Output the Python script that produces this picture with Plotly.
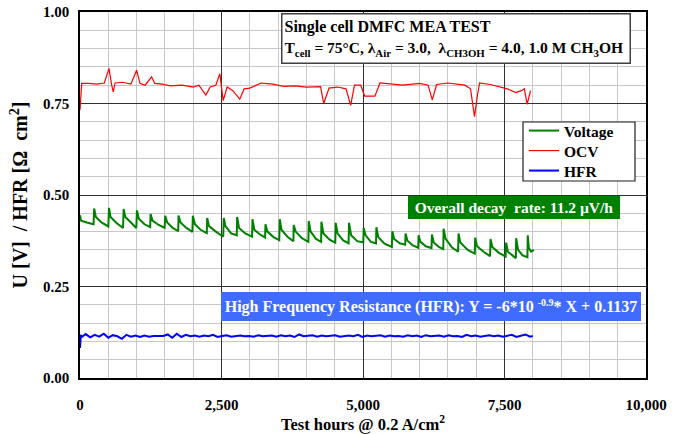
import plotly.graph_objects as go

# ---------------- data ----------------
voltage_hours = [0, 20, 120, 240,
                 250, 280, 380, 500,
                 512, 540, 650, 760,
                 771, 800, 900, 995,
                 1006, 1040, 1140, 1240,
                 1247, 1280, 1390, 1495,
                 1505, 1540, 1640, 1735,
                 1741, 1775, 1880, 1985,
                 1994, 2030, 2130, 2240,
                 2247, 2280, 2400, 2530,
                 2541, 2570, 2670, 2770,
                 2776, 2810, 2920, 3040,
                 3047, 3080, 3180, 3270,
                 3277, 3310, 3420, 3520,
                 3529, 3560, 3670, 3770,
                 3776, 3810, 3920, 4035,
                 4041, 4075, 4170, 4260,
                 4265, 4300, 4410, 4510,
                 4518, 4550, 4650, 4745,
                 4753, 4790, 4900, 5005,
                 5012, 5045, 5140, 5230,
                 5236, 5270, 5380, 5510,
                 5518, 5550, 5650, 5745,
                 5753, 5785, 5880, 5975,
                 5982, 6015, 6110, 6210,
                 6218, 6250, 6340, 6418,
                 6424, 6460, 6570, 6680,
                 6688, 6720, 6850, 6975,
                 6982, 7015, 7130, 7245,
                 7253, 7285, 7400, 7520,
                 7529, 7560, 7640, 7700,
                 7706, 7740, 7820, 7905,
                 7911, 7930, 7970, 8020]
voltage_values = [0.445, 0.430, 0.425, 0.420,
                  0.463, 0.440, 0.425, 0.414,
                  0.465, 0.440, 0.423, 0.410,
                  0.462, 0.440, 0.425, 0.410,
                  0.458, 0.435, 0.420, 0.412,
                  0.448, 0.430, 0.418, 0.410,
                  0.443, 0.425, 0.410, 0.401,
                  0.444, 0.425, 0.410, 0.399,
                  0.443, 0.420, 0.405, 0.396,
                  0.437, 0.415, 0.400, 0.386,
                  0.437, 0.415, 0.395, 0.390,
                  0.440, 0.410, 0.395, 0.386,
                  0.434, 0.405, 0.392, 0.384,
                  0.420, 0.400, 0.385, 0.377,
                  0.434, 0.405, 0.385, 0.374,
                  0.418, 0.400, 0.382, 0.372,
                  0.429, 0.400, 0.380, 0.372,
                  0.427, 0.395, 0.378, 0.370,
                  0.424, 0.395, 0.376, 0.368,
                  0.424, 0.390, 0.374, 0.370,
                  0.410, 0.390, 0.372, 0.368,
                  0.412, 0.385, 0.367, 0.358,
                  0.401, 0.380, 0.368, 0.364,
                  0.395, 0.375, 0.362, 0.356,
                  0.390, 0.372, 0.360, 0.355,
                  0.392, 0.370, 0.358, 0.352,
                  0.408, 0.380, 0.357, 0.345,
                  0.395, 0.370, 0.350, 0.340,
                  0.383, 0.360, 0.345, 0.333,
                  0.380, 0.358, 0.342, 0.332,
                  0.370, 0.345, 0.335, 0.327,
                  0.382, 0.350, 0.335, 0.330,
                  0.390, 0.355, 0.345, 0.350]

ocv_hours = [0, 30, 150, 300, 430, 512, 560, 588, 620, 750, 900, 1000, 1060,
             1150, 1265, 1320, 1450, 1600, 1800, 2000, 2100, 2224, 2300, 2400,
             2470, 2530, 2600, 2700, 2823, 2900, 3000, 3100, 3200, 3400, 3600,
             3800, 4000, 4250, 4306, 4400, 4550, 4700, 4782, 4850, 4960, 5030,
             5210, 5300, 5500, 5700, 6000, 6150, 6224, 6300, 6500, 6800, 6900,
             6970, 7020, 7060, 7250, 7450, 7550, 7700, 7800, 7850, 7900, 7960]
ocv_values = [0.732, 0.805, 0.805, 0.803, 0.806, 0.846, 0.800, 0.782, 0.806,
              0.808, 0.803, 0.841, 0.805, 0.800, 0.823, 0.805, 0.803, 0.798,
              0.800, 0.795, 0.800, 0.773, 0.795, 0.800, 0.831, 0.758, 0.795,
              0.785, 0.762, 0.790, 0.792, 0.800, 0.806, 0.803, 0.797, 0.798,
              0.795, 0.796, 0.750, 0.792, 0.795, 0.790, 0.745, 0.800, 0.800,
              0.770, 0.770, 0.806, 0.803, 0.800, 0.805, 0.800, 0.760, 0.802,
              0.806, 0.800, 0.790, 0.714, 0.770, 0.806, 0.802, 0.795, 0.790,
              0.780, 0.785, 0.790, 0.748, 0.785]

hfr_hours = [0, 15, 30, 100, 180, 260, 340, 420, 500, 580, 660, 740, 820, 900,
             980, 1060, 1140, 1220, 1300, 1360, 1470, 1550, 1630, 1710, 1790,
             1870, 1950, 2030, 2110, 2190, 2270, 2350, 2430, 2510, 2590, 2670,
             2750, 2830, 2910, 2990, 3070, 3150, 3230, 3310, 3390, 3470, 3550,
             3630, 3710, 3790, 3870, 3950, 4030, 4110, 4190, 4270, 4350, 4430,
             4510, 4590, 4670, 4750, 4830, 4910, 4990, 5070, 5150, 5230, 5310,
             5390, 5470, 5550, 5630, 5710, 5790, 5870, 5950, 6030, 6110, 6190,
             6270, 6350, 6430, 6510, 6590, 6670, 6750, 6830, 6910, 6990, 7070,
             7150, 7230, 7310, 7390, 7470, 7550, 7630, 7710, 7790, 7870, 7950,
             8000]
hfr_values = [0.082, 0.118, 0.112, 0.120, 0.111, 0.118, 0.113, 0.121, 0.110,
              0.117, 0.114, 0.107, 0.118, 0.113, 0.116, 0.112, 0.116, 0.113,
              0.115, 0.115, 0.115, 0.119, 0.110, 0.121, 0.112, 0.118, 0.114,
              0.116, 0.113, 0.116, 0.114, 0.118, 0.112, 0.115, 0.117, 0.113,
              0.115, 0.116, 0.114, 0.115, 0.113, 0.117, 0.114, 0.115, 0.116,
              0.113, 0.117, 0.114, 0.116, 0.112, 0.119, 0.114, 0.115, 0.117,
              0.113, 0.116, 0.114, 0.115, 0.117, 0.113, 0.115, 0.116, 0.114,
              0.118, 0.112, 0.116, 0.114, 0.115, 0.117, 0.113, 0.116, 0.114,
              0.115, 0.113, 0.117, 0.114, 0.116, 0.112, 0.117, 0.114, 0.115,
              0.116, 0.113, 0.117, 0.114, 0.115, 0.112, 0.118, 0.114, 0.116,
              0.113, 0.115, 0.117, 0.114, 0.116, 0.113, 0.115, 0.118, 0.112,
              0.116, 0.119, 0.113, 0.115]

x_ticks = [0, 2500, 5000, 7500, 10000]
x_tick_labels = ["0", "2,500", "5,000", "7,500", "10,000"]
y_ticks = [0.0, 0.25, 0.5, 0.75, 1.0]
y_tick_labels = ["0.00", "0.25", "0.50", "0.75", "1.00"]

FONT = "Liberation Serif"
NB = "\u00a0"

fig = go.Figure()
fig.add_trace(go.Scatter(x=voltage_hours, y=voltage_values, mode="lines",
                         name="Voltage", legend="legend",
                         line=dict(color="#008000", width=2)))
fig.add_trace(go.Scatter(x=ocv_hours, y=ocv_values, mode="lines",
                         name="OCV", legend="legend2",
                         line=dict(color="#ff0000", width=1.2)))
fig.add_trace(go.Scatter(x=hfr_hours, y=hfr_values, mode="lines",
                         name="HFR", legend="legend3",
                         line=dict(color="#0000ff", width=2)))

PL, PR, PT, PB = 80, 29, 12, 56
PW = 675 - PL - PR
PH = 434 - PT - PB


def px(xp):
    return (xp - PL) / PW


def py(yp):
    return (434 - PB - yp) / PH


def leg(ycenter):
    return dict(x=px(524), y=py(ycenter), xanchor="left", yanchor="middle",
                bgcolor="rgba(0,0,0,0)", borderwidth=0,
                font=dict(family=FONT, size=15.5, weight="bold"),
                tracegroupgap=0, itemwidth=30)


fig.update_layout(
    width=675, height=434,
    margin=dict(l=PL, r=PR, t=PT, b=PB, autoexpand=False),
    paper_bgcolor="white", plot_bgcolor="white",
    font=dict(family=FONT, color="black"),
    showlegend=True,
    legend=leg(131), legend2=leg(151), legend3=leg(171),
)

# legend frame (white box behind the legend entries)
fig.add_shape(type="rect", xref="paper", yref="paper",
              x0=px(523), x1=px(635), y0=py(181), y1=py(122),
              fillcolor="white", line=dict(color="#202020", width=1.2),
              layer="above")

fig.update_xaxes(
    range=[0, 10000], tickvals=x_ticks, ticktext=x_tick_labels,
    showgrid=True, gridcolor="#303030", gridwidth=1,
    minor=dict(dtick=500, showgrid=True, gridcolor="#c8c8c8", gridwidth=1),
    showline=True, linecolor="black", linewidth=1.5, mirror=True,
    ticks="", ticklabelstandoff=12, zeroline=False, automargin=False,
    tickfont=dict(family=FONT, size=15, weight="bold"),
    title=dict(text="<b>Test hours @ 0.2 A/cm<sup>2</sup></b>",
               font=dict(family=FONT, size=16.5), standoff=10),
)
fig.update_yaxes(
    range=[0, 1.0], tickvals=y_ticks, ticktext=y_tick_labels,
    showgrid=True, gridcolor="#303030", gridwidth=1,
    minor=dict(dtick=0.05, showgrid=True, gridcolor="#c8c8c8", gridwidth=1),
    showline=True, linecolor="black", linewidth=1.5, mirror=True,
    ticks="", ticklabelstandoff=6, zeroline=False, automargin=False,
    tickfont=dict(family=FONT, size=15, weight="bold"),
    title=dict(text=f"<b>U [V]{NB}{NB}/ HFR [Ω{NB}{NB}cm<sup>2</sup>]</b>",
               font=dict(family=FONT, size=20), standoff=10),
)

fig.add_annotation(
    xref="paper", yref="paper", x=px(281), y=py(13),
    xanchor="left", yanchor="top", align="left", showarrow=False,
    text=("<b>Single cell DMFC MEA TEST<br>"
          "<span style='font-size:15.5px'>T<sub>cell</sub> = 75°C, "
          f"λ<sub>Air</sub> = 3.0,{NB} λ<sub>CH3OH</sub> = 4.0, 1.0 M CH<sub>3</sub>OH</span></b>"),
    font=dict(family=FONT, size=16, color="black"),
    bgcolor="white", bordercolor="#404040", borderwidth=1.5, borderpad=2,
    width=343, height=44,
)
fig.add_annotation(
    xref="paper", yref="paper", x=px(408), y=py(196),
    xanchor="left", yanchor="top", showarrow=False,
    text=f"<b>Overall decay{NB} rate: 11.2 µV/h</b>",
    font=dict(family=FONT, size=15.5, color="white"),
    bgcolor="#008000", borderwidth=0, borderpad=0,
    width=212, height=23,
)
fig.add_annotation(
    xref="paper", yref="paper", x=px(221), y=py(292),
    xanchor="left", yanchor="top", showarrow=False,
    text=("<b>High Frequency Resistance (HFR): Y = -6*10 "
          "<sup><span style='font-size:10px'>-0.9</span></sup>* X + 0.1137</b>"),
    font=dict(family=FONT, size=16, color="white"),
    bgcolor="#3f6bff", borderwidth=0, borderpad=0,
    width=420, height=29,
)

fig.write_html(
    "out.html",
    config={"displayModeBar": False},
    post_script="document.body.style.margin='0px';document.body.style.overflow='hidden';",
)
